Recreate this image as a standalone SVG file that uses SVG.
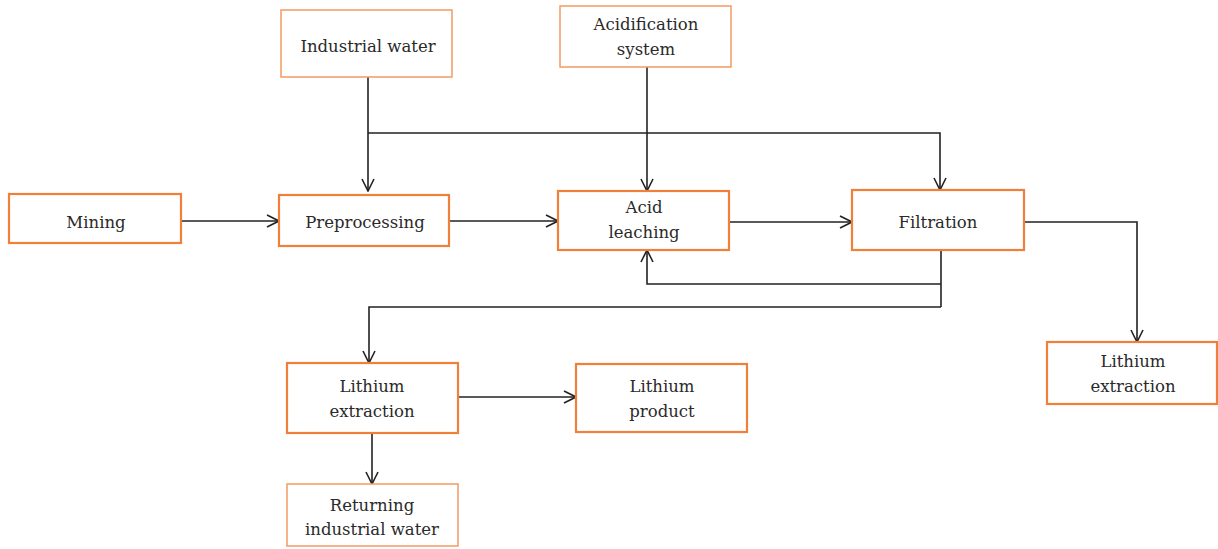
<svg xmlns="http://www.w3.org/2000/svg" width="1218" height="549" viewBox="0 0 1218 549">
<defs>
<marker id="arr" viewBox="0 0 14 14" refX="13" refY="7" markerWidth="14" markerHeight="14" markerUnits="userSpaceOnUse" orient="auto">
<path d="M1,1 L13,7 L1,13" fill="none" stroke="#222" stroke-width="1.6"/>
</marker>
<style>
.box{fill:#fff;stroke:#f07f3a;stroke-width:2.2}
.thin{stroke-width:1.5;stroke:#f39a62}
.t{font-family:'DejaVu Serif','Liberation Serif',serif;font-size:16.5px;fill:#2a2a2a;text-anchor:middle}
.c{fill:none;stroke:#222;stroke-width:1.6}
</style>
</defs>
<rect width="1218" height="549" fill="#fff"/>
<g id="connectors">
<path class="c" d="M368,77 V191" marker-end="url(#arr)"/>
<path class="c" d="M368,133 H940 V190" marker-end="url(#arr)"/>
<path class="c" d="M647,67 V191" marker-end="url(#arr)"/>
<path class="c" d="M181,221 H279" marker-end="url(#arr)"/>
<path class="c" d="M449,221 H558" marker-end="url(#arr)"/>
<path class="c" d="M729,222 H852" marker-end="url(#arr)"/>
<path class="c" d="M1024,222 H1137 V342" marker-end="url(#arr)"/>
<path class="c" d="M941,250 V307"/>
<path class="c" d="M941,284 H647 V250" marker-end="url(#arr)"/>
<path class="c" d="M941,307 H369 V363" marker-end="url(#arr)"/>
<path class="c" d="M458,397 H576" marker-end="url(#arr)"/>
<path class="c" d="M372,433 V484" marker-end="url(#arr)"/>
</g>
<g id="industrial-water"><rect class="box thin" x="281" y="10" width="171" height="67"/><text class="t" x="368" y="52">Industrial water</text></g>
<g id="acidification-system"><rect class="box thin" x="560" y="6" width="171" height="61"/><text class="t" x="646" y="30">Acidification</text><text class="t" x="646" y="55">system</text></g>
<g id="mining"><rect class="box" x="9" y="194" width="172" height="49"/><text class="t" x="96" y="228">Mining</text></g>
<g id="preprocessing"><rect class="box" x="279" y="195" width="170" height="51"/><text class="t" x="365" y="228">Preprocessing</text></g>
<g id="acid-leaching"><rect class="box" x="558" y="191" width="171" height="59"/><text class="t" x="644" y="213">Acid</text><text class="t" x="644" y="238">leaching</text></g>
<g id="filtration"><rect class="box" x="852" y="190" width="172" height="60"/><text class="t" x="938" y="228">Filtration</text></g>
<g id="lithium-extraction-left"><rect class="box" x="287" y="363" width="171" height="70"/><text class="t" x="372" y="392">Lithium</text><text class="t" x="372" y="417">extraction</text></g>
<g id="lithium-product"><rect class="box" x="576" y="364" width="171" height="68"/><text class="t" x="662" y="392">Lithium</text><text class="t" x="662" y="417">product</text></g>
<g id="returning-industrial-water"><rect class="box thin" x="287" y="484" width="171" height="62"/><text class="t" x="372" y="511">Returning</text><text class="t" x="372" y="535">industrial water</text></g>
<g id="lithium-extraction-right"><rect class="box" x="1047" y="342" width="170" height="62"/><text class="t" x="1133" y="367">Lithium</text><text class="t" x="1133" y="392">extraction</text></g>
</svg>
